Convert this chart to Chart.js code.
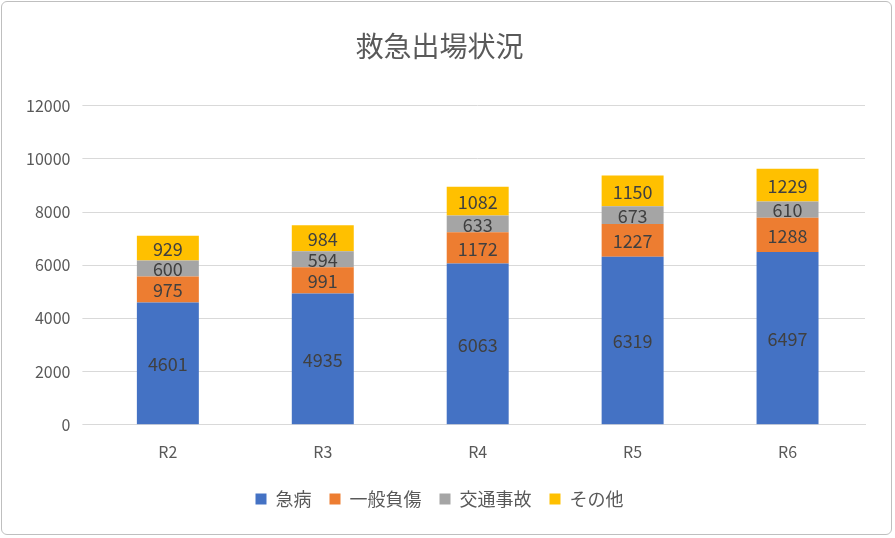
<!DOCTYPE html>
<html><head><meta charset="utf-8">
<script src="https://cdn.jsdelivr.net/npm/chart.js@4/dist/chart.umd.min.js"></script>
<style>
body{margin:0;background:#fff}
#wrap{position:absolute;left:1px;top:1px;width:891px;height:534px;border:1px solid #bfbfbf;border-radius:6px;box-sizing:border-box}
</style></head><body>
<div id="wrap"><canvas id="c"></canvas></div>
<script>
var categories = ["R2", "R3", "R4", "R5", "R6"];
var kyubyo = [4601, 4935, 6063, 6319, 6497];
var ippan = [975, 991, 1172, 1227, 1288];
var kotsu = [600, 594, 633, 673, 610];
var sonota = [929, 984, 1082, 1150, 1229];
var seriesNames = ["急病", "一般負傷", "交通事故", "その他"];
var colors = ["#4472C4", "#ED7D31", "#A5A5A5", "#FFC000"];
var font = "'Noto Sans CJK JP', 'Noto Sans', sans-serif";

var labelPlugin = {
	id: "barLabels",
	afterDatasetsDraw: function(chart) {
		var ctx = chart.ctx;
		ctx.save();
		ctx.font = "18px " + font;
		ctx.fillStyle = "#404040";
		ctx.textAlign = "center";
		ctx.textBaseline = "middle";
		chart.data.datasets.forEach(function(ds, i) {
			chart.getDatasetMeta(i).data.forEach(function(bar, j) {
				ctx.fillText(ds.data[j], bar.x, (bar.y + bar.base) / 2 + 1);
			});
		});
		ctx.restore();
	}
};

var data = [kyubyo, ippan, kotsu, sonota];
var datasets = [];
for (var i = 0; i < 4; i++) {
	datasets.push({label: seriesNames[i], data: data[i], backgroundColor: colors[i],
		barPercentage: 0.4, categoryPercentage: 1});
}

new Chart(document.getElementById("c"), {
	type: "bar",
	data: {labels: categories, datasets: datasets},
	plugins: [labelPlugin],
	options: {
		responsive: true, maintainAspectRatio: false, animation: false,
		layout: {padding: {left: 12, right: 26, top: 20, bottom: 16}},
		plugins: {
			title: {display: true, text: "救急出場状況", color: "#595959",
				font: {family: font, size: 28, weight: "normal"}, padding: {top: 8, bottom: 42}},
			legend: {position: "bottom", labels: {color: "#595959", boxWidth: 11, boxHeight: 11,
				font: {family: font, size: 18}, padding: 18}},
			tooltip: {enabled: false}
		},
		scales: {
			x: {stacked: true, grid: {display: false}, border: {color: "#d9d9d9"},
				ticks: {color: "#595959", font: {family: font, size: 16}, padding: 10}},
			y: {stacked: true, min: 0, max: 12000, grid: {color: "#d9d9d9"}, border: {display: false},
				ticks: {stepSize: 2000, color: "#595959", font: {family: font, size: 16}, padding: 12,
					callback: function(v) { return String(v); }}}
		}
	}
});
</script>
</body></html>
